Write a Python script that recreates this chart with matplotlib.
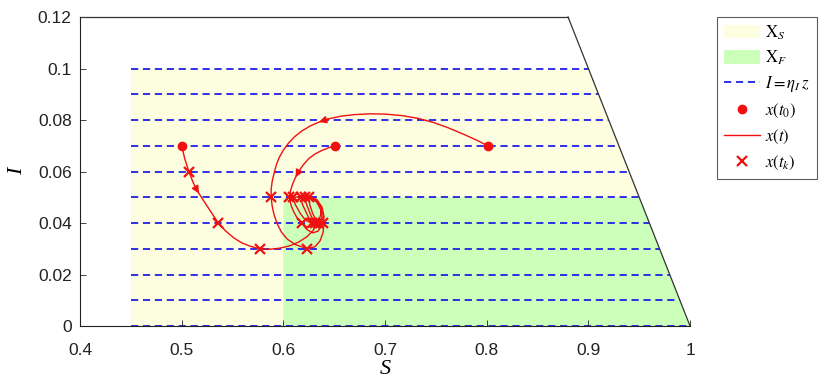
import matplotlib.pyplot as plt
from matplotlib.patches import Polygon, Patch
from matplotlib.lines import Line2D

plt.rcParams['mathtext.fontset'] = 'stix'

# level lines I = eta_I * z
levels = [0.0, 0.01, 0.02, 0.03, 0.04, 0.05, 0.06, 0.07, 0.08, 0.09, 0.10]
s_min = 0.45
s_f = 0.60
i_safe = 0.10
i_fin = 0.05

# trajectories (S, I)
S1 = [0.500, 0.5015, 0.503, 0.505, 0.507, 0.509, 0.5115, 0.514, 0.517, 0.521, 0.526,
      0.531, 0.536, 0.543, 0.551, 0.559, 0.568, 0.577, 0.586, 0.596, 0.606, 0.615,
      0.623, 0.629, 0.634, 0.637, 0.6365, 0.633, 0.626, 0.617, 0.619, 0.622, 0.625,
      0.628, 0.632, 0.636, 0.638, 0.637, 0.633, 0.627, 0.621, 0.623, 0.627, 0.631]
I1 = [0.070, 0.0675, 0.065, 0.0625, 0.060, 0.058, 0.0555, 0.0535, 0.0515, 0.049, 0.046,
      0.043, 0.040, 0.037, 0.0343, 0.0323, 0.0309, 0.030, 0.0298, 0.0302, 0.0311, 0.0326,
      0.0346, 0.037, 0.040, 0.0435, 0.0465, 0.049, 0.0503, 0.050, 0.047, 0.0445, 0.042,
      0.040, 0.0385, 0.0392, 0.042, 0.045, 0.048, 0.050, 0.050, 0.047, 0.043, 0.040]

S2 = [0.651, 0.645, 0.638, 0.631, 0.625, 0.620, 0.6155, 0.612, 0.609, 0.607, 0.606,
      0.6075, 0.610, 0.6135, 0.618, 0.623, 0.629, 0.634, 0.638, 0.640, 0.638, 0.633,
      0.625, 0.616, 0.609, 0.612, 0.617, 0.622, 0.628]
I2 = [0.070, 0.0693, 0.0682, 0.0668, 0.065, 0.0628, 0.0603, 0.0578, 0.055, 0.0525, 0.050,
      0.047, 0.0445, 0.042, 0.040, 0.0375, 0.0362, 0.0368, 0.039, 0.0425, 0.0462, 0.049,
      0.0503, 0.0502, 0.050, 0.047, 0.0435, 0.041, 0.040]

S3 = [0.801, 0.790, 0.777, 0.762, 0.748, 0.733, 0.717, 0.700, 0.685, 0.670, 0.657,
      0.645, 0.635, 0.626, 0.618, 0.611, 0.605, 0.600, 0.596, 0.593, 0.591, 0.589,
      0.588, 0.588, 0.589, 0.591, 0.594, 0.598, 0.604, 0.612, 0.6236, 0.631, 0.636,
      0.639, 0.640, 0.639, 0.636, 0.631, 0.625, 0.626, 0.629, 0.634]
I3 = [0.070, 0.0722, 0.0745, 0.0770, 0.0790, 0.0806, 0.0817, 0.0823, 0.0824, 0.0821, 0.0815,
      0.0805, 0.0792, 0.0776, 0.0757, 0.0735, 0.0710, 0.0683, 0.0655, 0.0625, 0.0595, 0.0562,
      0.053, 0.050, 0.0465, 0.043, 0.0397, 0.0365, 0.0337, 0.0316, 0.030, 0.0308, 0.0330,
      0.0362, 0.040, 0.0435, 0.0468, 0.0492, 0.050, 0.047, 0.0435, 0.040]

# sampling instants x(t_k)
Sk = [0.507, 0.536, 0.577, 0.588, 0.6236, 0.606, 0.609, 0.617, 0.621, 0.625,
      0.618, 0.628, 0.631, 0.634, 0.639]
Ik = [0.060, 0.040, 0.030, 0.050, 0.030, 0.050, 0.050, 0.050, 0.050, 0.050,
      0.040, 0.040, 0.040, 0.040, 0.040]

S0 = [0.500, 0.651, 0.801]
I0 = [0.070, 0.070, 0.070]

yellow = '#fdfde0'
green = '#ccffba'
blue = '#2020e8'
red = '#f01010'

fig = plt.figure(figsize=(8.3, 3.84), dpi=100)
ax = fig.add_axes([0.0964, 0.151, 0.735, 0.8047])

ax.add_patch(Polygon([(s_min, 0), (1, 0), (1 - i_safe, i_safe), (s_min, i_safe)],
                     closed=True, facecolor=yellow, edgecolor='none', zorder=0))
ax.add_patch(Polygon([(s_f, 0), (1, 0), (1 - i_fin, i_fin), (s_f, i_fin)],
                     closed=True, facecolor=green, edgecolor='none', zorder=0))

for lv in levels:
    ax.plot([s_min, 1 - lv], [lv, lv], color=blue, lw=1.3,
            linestyle=(0, (4, 2.6)), zorder=1)

for S, I, k in [(S1, I1, 8), (S2, I2, 7), (S3, I3, 12)]:
    ax.plot(S, I, color=red, lw=1.0, zorder=3)
    ax.annotate('', xy=(S[k], I[k]), xytext=(S[k - 1], I[k - 1]),
                arrowprops=dict(arrowstyle='-|>', color=red, lw=1.0,
                                mutation_scale=11, shrinkA=0, shrinkB=0), zorder=4)

ax.plot(Sk, Ik, 'x', color=red, ms=7, mew=1.6, zorder=5)
ax.plot(S0, I0, 'o', color=red, ms=6, zorder=5)

# boundary of the state space (S + I <= 1)
ax.plot([0.4, 0.88], [0.12, 0.12], color='#333333', lw=0.9, clip_on=False)
ax.plot([0.88, 1.0], [0.12, 0.0], color='#333333', lw=0.9, clip_on=False)

ax.set_xlim(0.4, 1.0)
ax.set_ylim(0, 0.12)
ax.spines['top'].set_visible(False)
ax.spines['right'].set_visible(False)
ax.spines['left'].set_color('#222222')
ax.spines['bottom'].set_color('#222222')
ax.set_xticks([0.4, 0.5, 0.6, 0.7, 0.8, 0.9, 1.0])
ax.set_xticklabels(['0.4', '0.5', '0.6', '0.7', '0.8', '0.9', '1'])
ax.set_yticks([0, 0.02, 0.04, 0.06, 0.08, 0.1, 0.12])
ax.set_yticklabels(['0', '0.02', '0.04', '0.06', '0.08', '0.1', '0.12'])
ax.tick_params(direction='in', length=4, width=0.6, labelsize=12.5,
               colors='#222222', pad=6)
ax.tick_params(axis='x', pad=12)
for lab in ax.get_xticklabels() + ax.get_yticklabels():
    lab.set_fontfamily('Liberation Sans')
ax.set_xlabel('S', fontfamily='Liberation Serif', style='italic', fontsize=16, labelpad=2)
ax.set_ylabel('I', fontfamily='Liberation Serif', style='italic', fontsize=16,
              rotation=90, labelpad=8)

handles = [
    Patch(facecolor=yellow, edgecolor='none'),
    Patch(facecolor=green, edgecolor='none'),
    Line2D([], [], color=blue, lw=1.3, linestyle=(0, (4, 2.6))),
    Line2D([], [], color=red, marker='o', ms=6, linestyle='none'),
    Line2D([], [], color=red, lw=1.0),
    Line2D([], [], color=red, marker='x', ms=7, mew=1.6, linestyle='none'),
]
labels = [r'$\mathrm{X}_S$', r'$\mathrm{X}_F$', r'$I=\eta_I\,z$',
          r'$x(t_0)$', r'$x(t)$', r'$x(t_k)$']
leg = fig.legend(handles, labels, loc='upper left', bbox_to_anchor=(0.864, 0.957),
                 fontsize=12, frameon=True, fancybox=False, edgecolor='#333333',
                 handlelength=2.2, handleheight=0.9, labelspacing=0.42, borderpad=0.4,
                 handletextpad=0.3, borderaxespad=0)
leg.get_frame().set_linewidth(0.8)

fig.savefig('out.png', dpi=100)
